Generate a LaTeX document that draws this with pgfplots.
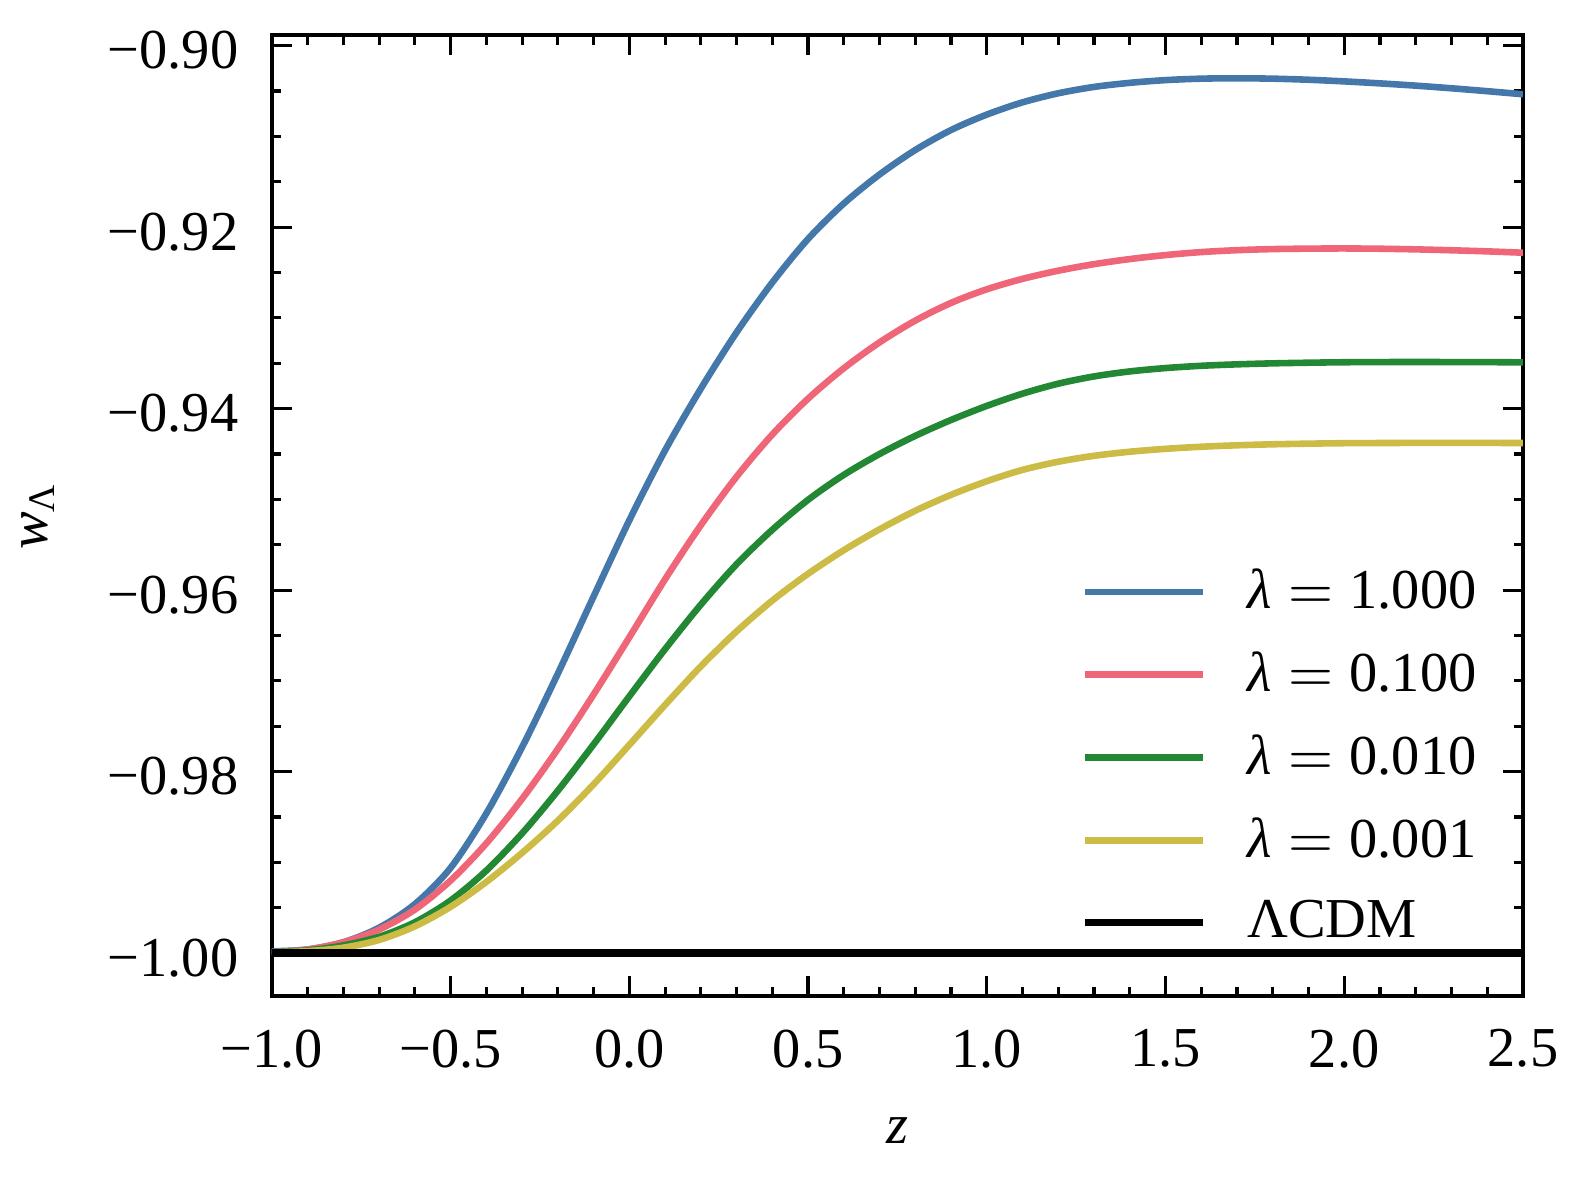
\documentclass[border=0pt]{standalone}
\usepackage{fontspec}
\setmainfont{Liberation Serif}
\usepackage{pgfplots}
\usepackage{pgfplotstable}
\pgfplotsset{compat=1.18}
\definecolor{tolblue}{HTML}{4477AA}
\definecolor{tolred}{HTML}{EE6677}
\definecolor{tolgreen}{HTML}{228833}
\definecolor{tolyellow}{HTML}{CCBB44}

\pgfplotstableread{
x y
-1.0 -0.99980
-0.9 -0.99960
-0.8 -0.99880
-0.7 -0.99720
-0.6 -0.99460
-0.5 -0.99060
-0.4 -0.98460
-0.3 -0.97730
-0.2 -0.96920
-0.1 -0.96070
0.0 -0.95230
0.1 -0.94460
0.2 -0.93780
0.3 -0.93160
0.4 -0.92610
0.5 -0.92130
0.6 -0.91740
0.7 -0.91420
0.8 -0.91150
0.9 -0.90930
1.0 -0.90760
1.1 -0.90625
1.2 -0.90525
1.3 -0.90455
1.4 -0.90410
1.5 -0.90380
1.6 -0.90364
1.7 -0.90360
1.8 -0.90364
1.9 -0.90376
2.0 -0.90394
2.1 -0.90416
2.2 -0.90441
2.3 -0.90470
2.4 -0.90502
2.5 -0.90536
}\tblA

\pgfplotstableread{
x y
-1.0 -0.99990
-0.9 -0.99960
-0.8 -0.99880
-0.7 -0.99740
-0.6 -0.99520
-0.5 -0.99200
-0.4 -0.98790
-0.3 -0.98300
-0.2 -0.97750
-0.1 -0.97150
0.0 -0.96520
0.1 -0.95880
0.2 -0.95285
0.3 -0.94750
0.4 -0.94285
0.5 -0.93890
0.6 -0.93555
0.7 -0.93270
0.8 -0.93030
0.9 -0.92835
1.0 -0.92685
1.1 -0.92570
1.2 -0.92480
1.3 -0.92408
1.4 -0.92352
1.5 -0.92308
1.6 -0.92275
1.7 -0.92254
1.8 -0.92242
1.9 -0.92237
2.0 -0.92235
2.1 -0.92238
2.2 -0.92245
2.3 -0.92255
2.4 -0.92267
2.5 -0.92282
}\tblB

\pgfplotstableread{
x y
-1.0 -0.99990
-0.9 -0.99970
-0.8 -0.99915
-0.7 -0.99820
-0.6 -0.99660
-0.5 -0.99420
-0.4 -0.99090
-0.3 -0.98680
-0.2 -0.98210
-0.1 -0.97700
0.0 -0.97170
0.1 -0.96650
0.2 -0.96160
0.3 -0.95715
0.4 -0.95335
0.5 -0.95005
0.6 -0.94730
0.7 -0.94500
0.8 -0.94300
0.9 -0.94125
1.0 -0.93970
1.1 -0.93835
1.2 -0.93725
1.3 -0.93645
1.4 -0.93590
1.5 -0.93553
1.6 -0.93528
1.7 -0.93512
1.8 -0.93501
1.9 -0.93494
2.0 -0.93489
2.1 -0.93487
2.2 -0.93486
2.3 -0.93487
2.4 -0.93488
2.5 -0.93490
}\tblC

\pgfplotstableread{
x y
-1.0 -0.99992
-0.9 -0.99978
-0.8 -0.99940
-0.7 -0.99855
-0.6 -0.99705
-0.5 -0.99490
-0.4 -0.99215
-0.3 -0.98895
-0.2 -0.98540
-0.1 -0.98140
0.0 -0.97705
0.1 -0.97265
0.2 -0.96840
0.3 -0.96455
0.4 -0.96115
0.5 -0.95820
0.6 -0.95560
0.7 -0.95330
0.8 -0.95125
0.9 -0.94950
1.0 -0.94800
1.1 -0.94675
1.2 -0.94585
1.3 -0.94520
1.4 -0.94475
1.5 -0.94443
1.6 -0.94420
1.7 -0.94404
1.8 -0.94393
1.9 -0.94386
2.0 -0.94381
2.1 -0.94379
2.2 -0.94378
2.3 -0.94378
2.4 -0.94378
2.5 -0.94379
}\tblD

\pgfplotstableread{
x y
-1.0 -1.0
2.5 -1.0
}\tblE

\begin{document}
\begin{tikzpicture}
\useasboundingbox (-43.4pt,-29.5pt) rectangle (208.8pt,159.0pt);
\begin{axis}[
  at={(0pt,0pt)}, anchor=south west,
  scale only axis, width=199.7pt, height=153.4pt,
  xmin=-1, xmax=2.5, ymin=-1.00474, ymax=-0.89884,
  font=\fontsize{9}{11}\selectfont,
  xtick={-1,-0.5,0,0.5,1,1.5,2,2.5},
  xticklabels={−1.0,−0.5,0.0,0.5,1.0,1.5,2.0,2.5},
  ytick={-1,-0.98,-0.96,-0.94,-0.92,-0.9},
  yticklabels={−1.00,−0.98,−0.96,−0.94,−0.92,−0.90},
  minor x tick num=4, minor y tick num=3,
  tick align=inside, xtick pos=both, ytick pos=both,
  major tick length=3.2pt, minor tick length=1.5pt,
  every tick/.style={black, line width=0.5pt},
  axis line style={line width=0.55pt},
  tick label style={font=\fontsize{9}{11}\selectfont},
  xticklabel style={yshift=-1.8pt},
  yticklabel style={xshift=-1.84pt, yshift=-0.8pt},
  xlabel={\textit{z}},
  ylabel={\textit{w}\textsubscript{Λ}},
  x label style={at={(axis description cs:0.5,-0.1538)}, anchor=base},
  y label style={at={(axis description cs:-0.1790,0.5)}, anchor=base},
  legend image code/.code={\draw[#1] (0pt,0.25pt) -- (18.8pt,0.25pt);},
  legend cell align=left,
  legend style={draw=none, fill=none, at={(axis description cs:0.647,0.4257)},
    anchor=north west, yshift=2.9pt, inner sep=0pt, outer sep=0pt,
    row sep=5.4pt, column sep=6.5pt, nodes={inner sep=0pt},
    font=\fontsize{9}{11}\selectfont},
]
\addplot[tolblue, line width=1.05pt, smooth] table[x=x,y=y] {\tblA};
\addlegendentry{{\itshape λ}\hspace{0.3em}$=$\hspace{0.28em}1.000}
\addplot[tolred, line width=1.05pt, smooth] table[x=x,y=y] {\tblB};
\addlegendentry{{\itshape λ}\hspace{0.3em}$=$\hspace{0.28em}0.100}
\addplot[tolgreen, line width=1.05pt, smooth] table[x=x,y=y] {\tblC};
\addlegendentry{{\itshape λ}\hspace{0.3em}$=$\hspace{0.28em}0.010}
\addplot[tolyellow, line width=1.05pt, smooth] table[x=x,y=y] {\tblD};
\addlegendentry{{\itshape λ}\hspace{0.3em}$=$\hspace{0.28em}0.001}
\addplot[black, line width=1.2pt] table[x=x,y=y] {\tblE};
\addlegendentry{ΛCDM}
\end{axis}
\end{tikzpicture}
\end{document}
